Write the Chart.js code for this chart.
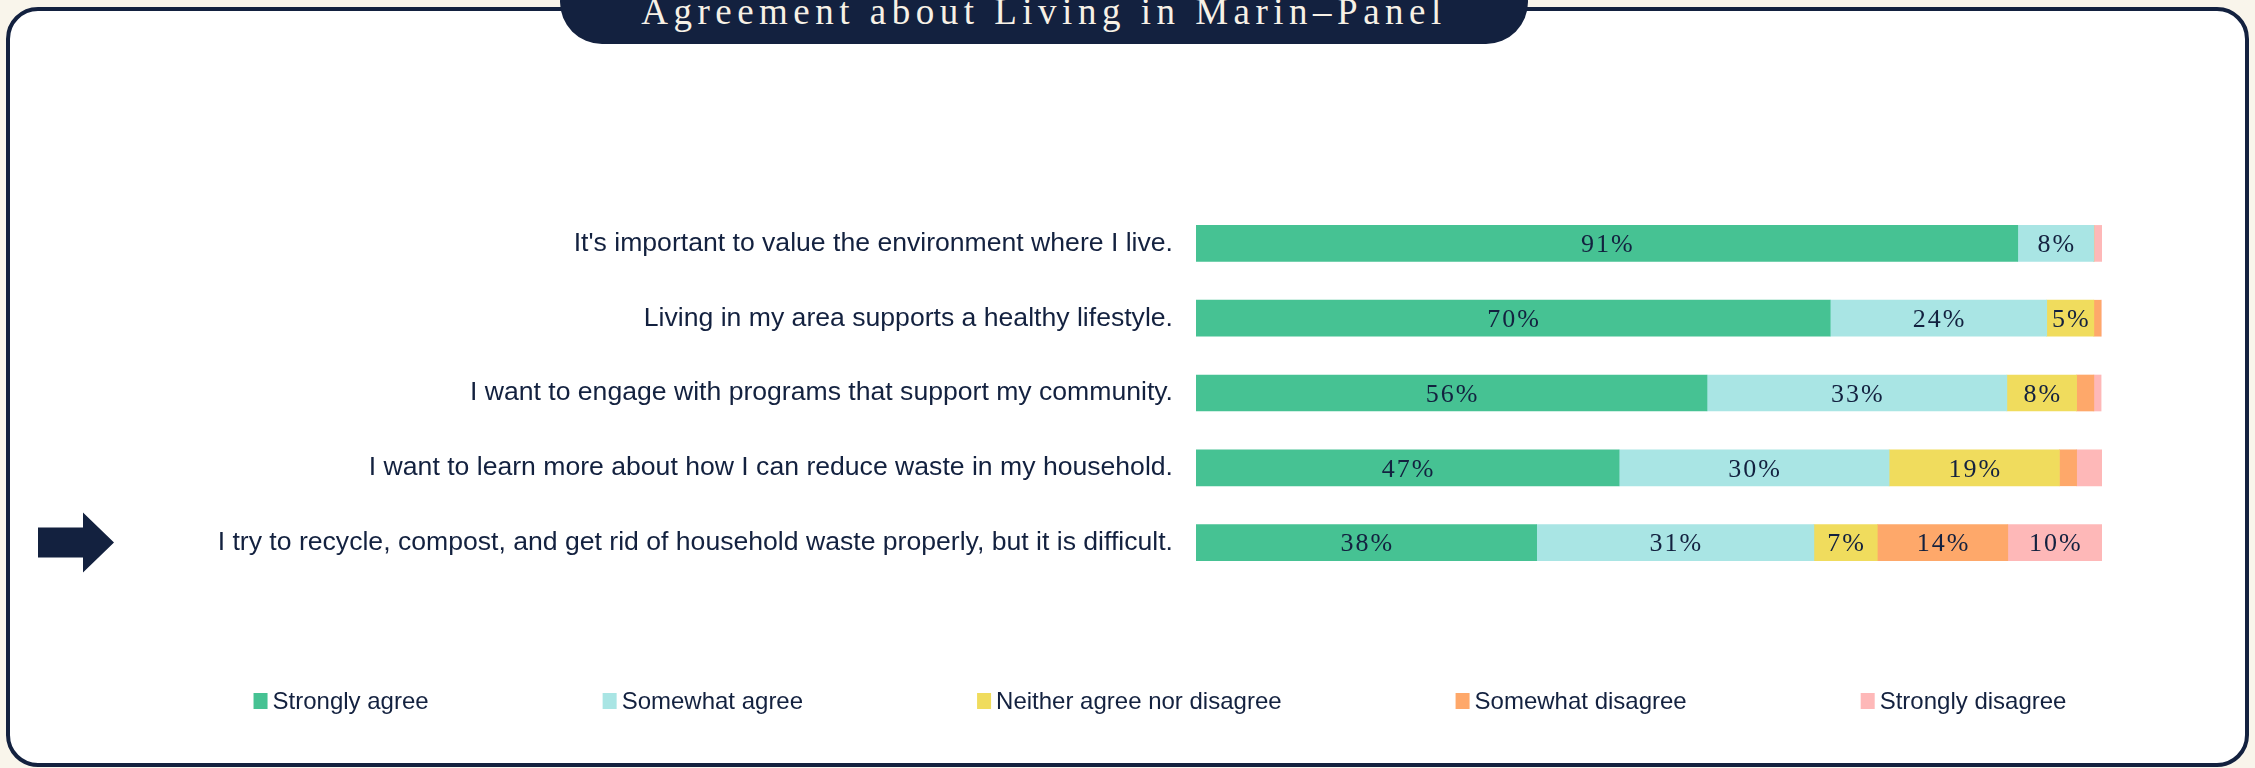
<!DOCTYPE html>
<html>
<head>
<meta charset="utf-8">
<script src="https://cdn.jsdelivr.net/npm/chart.js@4.4.1/dist/chart.umd.min.js"></script>
<style>
    html, body { margin: 0; padding: 0; }
    body { width: 2255px; height: 768px; background: #f9f5eb; position: relative; overflow: hidden; }
    #card {
        position: absolute; left: 6px; top: 7px; width: 2243px; height: 760px;
        box-sizing: border-box; border: 4px solid #13213f; border-radius: 32px; background: #ffffff;
    }
    #pill {
        position: absolute; left: 560px; top: -40px; width: 968px; height: 84px;
        background: #13213f; border-radius: 42px;
    }
    #title {
        position: absolute; left: 560px; top: -6px; width: 968px; line-height: 36px;
        text-align: center; color: #f7f1e6; font-family: "Liberation Serif", serif; font-size: 37px;
        letter-spacing: 5.5px; white-space: nowrap;
    }
    #wrap { position: absolute; left: 0; top: 0; width: 2255px; height: 768px; }
</style>
</head>
<body>
<div id="card"></div>
<div id="pill"></div>
<div id="title">Agreement about Living in Marin–Panel</div>
<div id="wrap"><canvas id="graph1"></canvas></div>
<script>
// statements (top to bottom)
const statements = [
    "It's important to value the environment where I live.",
    "Living in my area supports a healthy lifestyle.",
    "I want to engage with programs that support my community.",
    "I want to learn more about how I can reduce waste in my household.",
    "I try to recycle, compost, and get rid of household waste properly, but it is difficult."
];

const seriesNames = ['Strongly agree', 'Somewhat agree', 'Neither agree nor disagree', 'Somewhat disagree', 'Strongly disagree'];

// percent of respondents
const stronglyAgree = [90.7, 70.0, 56.4, 46.7, 37.6];
const somewhatAgree = [8.4, 23.9, 33.1, 29.8, 30.6];
const neitherAgree = [0, 5.2, 7.7, 18.8, 7.0];
const somewhatDisagree = [0, 0.8, 1.9, 1.9, 14.4];
const stronglyDisagree = [0.9, 0, 0.8, 2.8, 10.4];

const seriesColors = ['#46c293', '#a9e5e4', '#f0dc5d', '#fea86a', '#feb8b8'];

const navy = '#13213f';

// percent labels inside the segments
const segmentLabels = {
    id: 'segmentLabels',
    afterDatasetsDraw(chart) {
        let ctx = chart.ctx;
        ctx.save();
        ctx.font = '26px "Liberation Serif"';
        ctx.letterSpacing = '2px';
        ctx.fillStyle = navy;
        ctx.textAlign = 'center';
        ctx.textBaseline = 'middle';
        chart.data.datasets.forEach(function (ds, i) {
            let meta = chart.getDatasetMeta(i);
            meta.data.forEach(function (bar, j) {
                let v = ds.data[j];
                if (v < 4) return;
                let cx = (bar.x + bar.base) / 2 + 1;
                ctx.fillText(Math.round(v) + '%', cx, bar.y + 2);
            });
        });
        ctx.restore();
    }
};

// arrow pointing at the last statement
const arrowMark = {
    id: 'arrowMark',
    afterDraw(chart) {
        let ctx = chart.ctx;
        let y = chart.scales.y.getPixelForValue(statements.length - 1);
        ctx.save();
        ctx.fillStyle = navy;
        ctx.beginPath();
        ctx.moveTo(38, y - 15);
        ctx.lineTo(83, y - 15);
        ctx.lineTo(83, y - 30);
        ctx.lineTo(114, y);
        ctx.lineTo(83, y + 30);
        ctx.lineTo(83, y + 15);
        ctx.lineTo(38, y + 15);
        ctx.closePath();
        ctx.fill();
        ctx.restore();
    }
};

// legend row with wide, even gaps
const wideLegend = {
    id: 'wideLegend',
    afterDraw(chart) {
        let ctx = chart.ctx;
        let box = 14, gap = 5, spacing = 174, yMid = 701, center = 1160;
        ctx.save();
        ctx.font = '24px "Liberation Sans"';
        ctx.textBaseline = 'middle';
        ctx.textAlign = 'left';
        let widths = chart.data.datasets.map(ds => ctx.measureText(ds.label).width);
        let total = widths.reduce((a, w) => a + box + gap + w, 0) + spacing * (widths.length - 1);
        let x = center - total / 2;
        chart.data.datasets.forEach(function (ds, i) {
            ctx.fillStyle = ds.backgroundColor;
            ctx.fillRect(x, yMid - box / 2 - 1, box, box + 2);
            ctx.fillStyle = navy;
            ctx.fillText(ds.label, x + box + gap, yMid + 1);
            x += box + gap + widths[i] + spacing;
        });
        ctx.restore();
    }
};

let seriesValues = [stronglyAgree, somewhatAgree, neitherAgree, somewhatDisagree, stronglyDisagree];

let data = {
    labels: statements,
    datasets: seriesNames.map(function (name, i) {
        return {
            label: name,
            data: seriesValues[i],
            backgroundColor: seriesColors[i],
            borderWidth: 0,
            barThickness: 36
        };
    })
};

let options = {
    indexAxis: 'y',
    responsive: true,
    maintainAspectRatio: false,
    animation: false,
    layout: {
        padding: { left: 0, right: 153, top: 206, bottom: 188 }
    },
    scales: {
        x: {
            stacked: true,
            min: 0,
            max: 100,
            display: false
        },
        y: {
            stacked: true,
            grid: { display: false, drawTicks: false },
            border: { display: false },
            ticks: {
                padding: 23,
                color: navy,
                font: { family: 'Liberation Sans', size: 26.6 }
            },
            afterFit: function (scale) {
                scale.width = 1196;
            }
        }
    },
    plugins: {
        legend: { display: false },
        tooltip: { enabled: false }
    }
};

let config = {
    type: 'bar',
    data: data,
    options: options,
    plugins: [segmentLabels, arrowMark, wideLegend]
};

let graph1 = new Chart(document.getElementById('graph1').getContext('2d'), config);
</script>
</body>
</html>
